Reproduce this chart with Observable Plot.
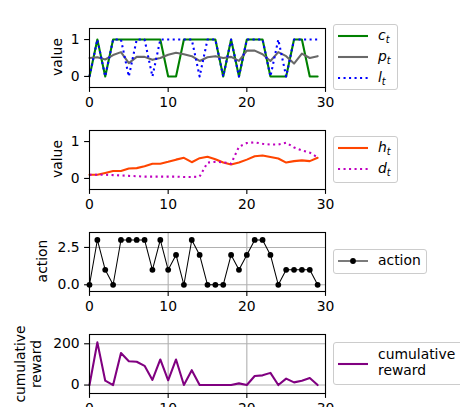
<!DOCTYPE html>
<html><head><meta charset="utf-8">
<script src="https://cdn.jsdelivr.net/npm/d3@7"></script>
<script src="https://cdn.jsdelivr.net/npm/@observablehq/plot@0.6"></script>
<style>
body{margin:0;background:#fff;}
#fig{position:relative;width:460px;height:407px;overflow:hidden;font-family:"DejaVu Sans";background:#fff;}
.panel{position:absolute;left:0;}
.legend{position:absolute;border:1px solid #cccccc;border-radius:3px;background:rgba(255,255,255,0.8);box-sizing:border-box;font-size:13.9px;color:#000;}
.item{position:absolute;white-space:nowrap;line-height:17px;}
.sample{position:absolute;}
.m{font-style:italic;}
.m sub{font-size:0.7em;vertical-align:-0.3em;line-height:0;}
.ylab{position:absolute;font-size:13.9px;line-height:16px;white-space:nowrap;text-align:center;color:#000;transform:translate(-50%,-50%) rotate(-90deg);}
</style></head>
<body><div id="fig"></div>
<script>
// ---- data ----
const steps = [0,1,2,3,4,5,6,7,8,9,10,11,12,13,14,15,16,17,18,19,20,21,22,23,24,25,26,27,28,29];
const cT = [0,1,0,1,1,1,1,1,1,1, 0,0,1,1,1,1,1,0,1,0, 1,1,1,0,0,0,1,1,0,0];
const pT = [0.5,0.52,0.46,0.58,0.66,0.36,0.53,0.53,0.45,0.5, 0.59,0.64,0.6,0.55,0.42,0.52,0.55,0.5,0.53,0.42, 0.7,0.7,0.6,0.42,0.66,0.55,0.35,0.62,0.5,0.55];
const lT = [0,1,0,1,1,0,1,1,0,1, 1,1,1,1,0,1,1,0,1,0, 1,1,1,0,1,0,1,1,1,1];
const hT = [0.1,0.1,0.15,0.2,0.2,0.27,0.28,0.33,0.4,0.4, 0.45,0.51,0.56,0.44,0.55,0.59,0.52,0.43,0.38,0.43, 0.51,0.6,0.62,0.58,0.54,0.43,0.47,0.49,0.47,0.56];
const dT = [0.1,0.1,0.1,0.09,0.08,0.07,0.06,0.05,0.05,0.05, 0.05,0.05,0.04,0.04,0.05,0.43,0.45,0.44,0.4,0.86, 0.96,0.98,0.94,0.92,0.92,0.97,0.84,0.76,0.7,0.57];
const action = [0,3,1,0,3,3,3,3,1,3, 1,2,0,3,2,0,0,0,2,1, 2,3,3,2,0,1,1,1,1,0];
const reward = [0,207,21,0,155,115,113,93,25,124, 23,124,0,72,0,0,0,0,0,8, 0,44,47,59,0,31,13,21,34,0];
const xTicks = [0,10,20,30];
const yTicks01 = [0,1];
const yTicksAction = [0,2.5];
const yTicksReward = [0,200];
const yLabels = ["value", "value", "action", "cumulative<br>reward"];

const rows = steps.map((s,i)=>({step:s, c:cT[i], p:pT[i], l:lT[i], h:hT[i], d:dT[i], a:action[i], r:reward[i]}));

const fig = document.getElementById("fig");
const LW = 2.08, DOT = "2.08,3.43";
const MT = 20, MB = 30, FH = 59;

function panel({top, yDomain, yTicks, yFmt, grid, marks, ylabel, ylx}) {
  const plot = Plot.plot({
    width: 460, height: MT + FH + MB,
    marginLeft: 89, marginRight: 135, marginTop: MT, marginBottom: MB,
    x: {domain: [0, 30]},
    y: {domain: yDomain},
    style: {fontFamily: "DejaVu Sans", fontSize: "13.9px", color: "black", background: "none", overflow: "visible"},
    marks: [
      grid ? Plot.gridX(xTicks, {stroke: "#b0b0b0", strokeOpacity: 1, strokeWidth: 1.1}) : null,
      grid ? Plot.gridY(yTicks, {stroke: "#b0b0b0", strokeOpacity: 1, strokeWidth: 1.1}) : null,
      ...marks,
      Plot.frame({stroke: "black", strokeWidth: 1.1}),
      Plot.axisX(xTicks, {tickSize: 4.9, tickPadding: 4.9, strokeWidth: 1.1, label: null, tickFormat: d => String(d)}),
      Plot.axisY(yTicks, {tickSize: 4.9, tickPadding: 4.9, strokeWidth: 1.1, label: null, tickFormat: yFmt})
    ].filter(Boolean)
  });
  plot.classList.add("panel");
  plot.style.top = (top - MT) + "px";
  fig.appendChild(plot);
  const lab = document.createElement("div");
  lab.className = "ylab";
  lab.innerHTML = ylabel;
  lab.style.left = ylx + "px";
  lab.style.top = (top + FH / 2) + "px";
  fig.appendChild(lab);
}

panel({top: 27.5, yDomain: [-0.3, 1.3], yTicks: yTicks01, yFmt: d => String(d), grid: false, ylabel: yLabels[0], ylx: 57,
  marks: [
    Plot.line(rows, {x: "step", y: "c", stroke: "green", strokeWidth: LW}),
    Plot.line(rows, {x: "step", y: "p", stroke: "dimgray", strokeWidth: LW}),
    Plot.line(rows, {x: "step", y: "l", stroke: "blue", strokeWidth: LW, strokeDasharray: DOT, strokeLinecap: "butt"})
  ]});

panel({top: 129.7, yDomain: [-0.3, 1.3], yTicks: yTicks01, yFmt: d => String(d), grid: false, ylabel: yLabels[1], ylx: 57,
  marks: [
    Plot.line(rows, {x: "step", y: "h", stroke: "orangered", strokeWidth: LW}),
    Plot.line(rows, {x: "step", y: "d", stroke: "#bf00bf", strokeWidth: LW, strokeDasharray: DOT, strokeLinecap: "butt"})
  ]});

panel({top: 231.9, yDomain: [-0.45, 3.5], yTicks: yTicksAction, yFmt: d => d.toFixed(1), grid: true, ylabel: yLabels[2], ylx: 42,
  marks: [
    Plot.line(rows, {x: "step", y: "a", stroke: "black", strokeWidth: 1.04}),
    Plot.dot(rows, {x: "step", y: "a", fill: "black", r: 2.9, stroke: "none"})
  ]});

panel({top: 334.1, yDomain: [-41, 245], yTicks: yTicksReward, yFmt: d => String(d), grid: true, ylabel: yLabels[3], ylx: 28,
  marks: [
    Plot.line(rows, {x: "step", y: "r", stroke: "purple", strokeWidth: LW})
  ]});

// ---- legends ----
function legend(left, top, w, h, items) {
  const box = document.createElement("div");
  box.className = "legend";
  Object.assign(box.style, {left: left + "px", top: top + "px", width: w + "px", height: h + "px"});
  for (const it of items) {
    const s = document.createElementNS("http://www.w3.org/2000/svg", "svg");
    s.setAttribute("width", 32); s.setAttribute("height", 10);
    s.setAttribute("class", "sample");
    s.style.left = "3px"; s.style.top = (it.cy - 5) + "px";
    const ln = document.createElementNS("http://www.w3.org/2000/svg", "line");
    ln.setAttribute("x1", 1); ln.setAttribute("x2", 31); ln.setAttribute("y1", 5); ln.setAttribute("y2", 5);
    ln.setAttribute("stroke", it.color); ln.setAttribute("stroke-width", it.w || LW);
    if (it.dash) ln.setAttribute("stroke-dasharray", it.dash);
    s.appendChild(ln);
    if (it.marker) {
      const c = document.createElementNS("http://www.w3.org/2000/svg", "circle");
      c.setAttribute("cx", 16); c.setAttribute("cy", 5); c.setAttribute("r", 2.9); c.setAttribute("fill", it.color);
      s.appendChild(c);
    }
    box.appendChild(s);
    for (const t of it.texts) {
      const sp = document.createElement("div");
      sp.className = "item";
      sp.style.left = "44px"; sp.style.top = (t.cy - 9) + "px";
      sp.innerHTML = t.html;
      box.appendChild(sp);
    }
  }
  fig.appendChild(box);
}
const m = (a, b) => `<span class="m">${a}<sub>${b}</sub></span>`;
legend(333, 24, 65, 66, [
  {cy: 11, color: "green", texts: [{cy: 11, html: m("c","t")}]},
  {cy: 32, color: "dimgray", texts: [{cy: 32, html: m("p","t")}]},
  {cy: 53, color: "blue", dash: DOT, texts: [{cy: 53, html: m("l","t")}]}
]);
legend(333, 136, 65, 47, [
  {cy: 11, color: "orangered", texts: [{cy: 11, html: m("h","t")}]},
  {cy: 32, color: "#bf00bf", dash: DOT, texts: [{cy: 32, html: m("d","t")}]}
]);
legend(333, 249, 94, 25, [
  {cy: 11, color: "black", w: 1.04, marker: true, texts: [{cy: 11, html: "action"}]}
]);
legend(333, 342, 140, 43, [
  {cy: 21, color: "purple", texts: [{cy: 12, html: "cumulative"}, {cy: 28, html: "reward"}]}
]);
</script>
</body></html>
